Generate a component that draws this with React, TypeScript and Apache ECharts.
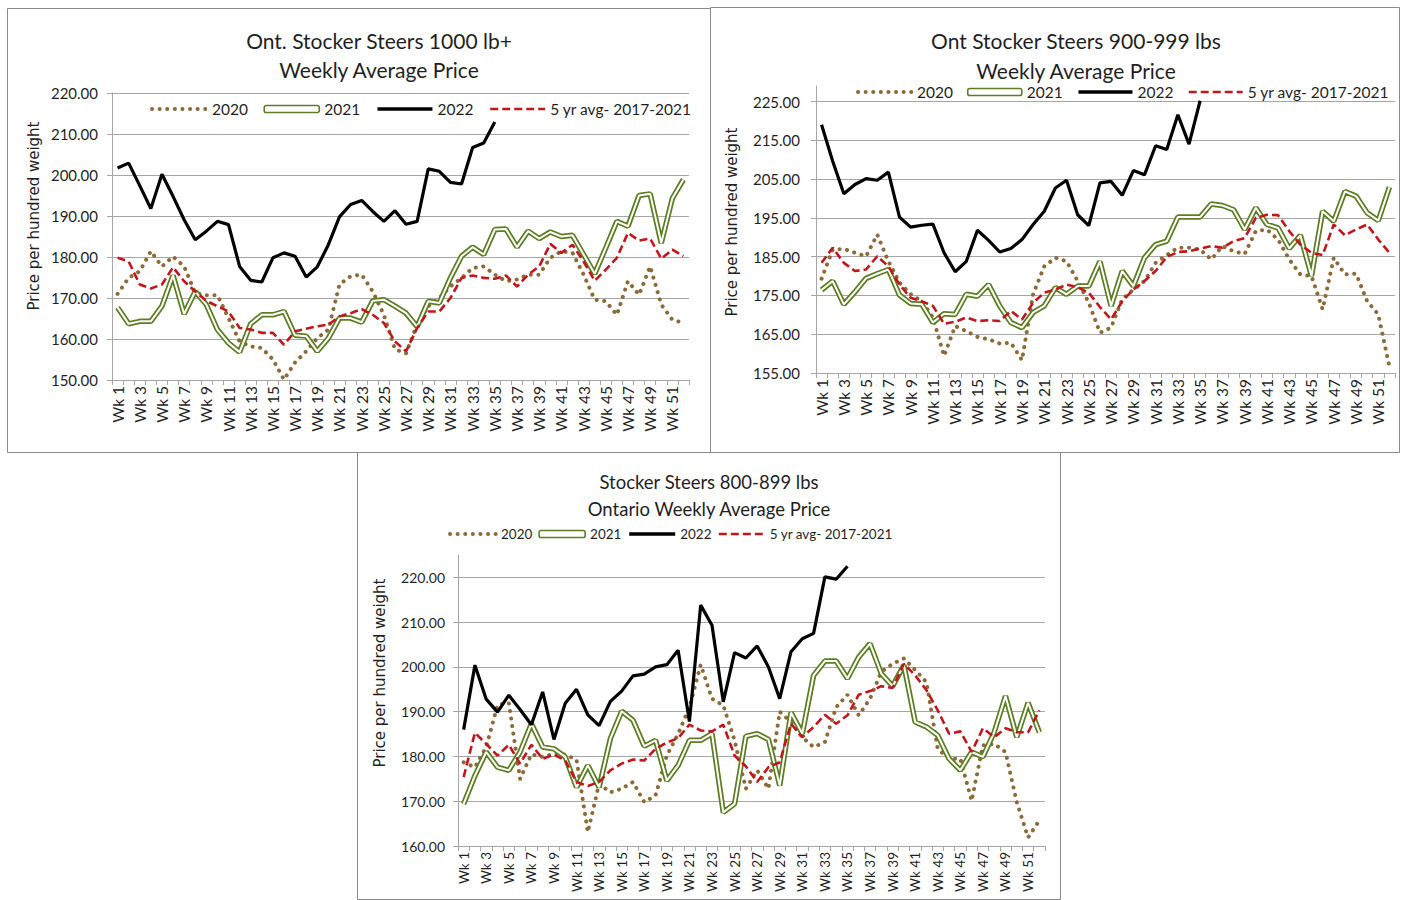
import React, { useEffect, useRef } from "react";
import * as echarts from "echarts";

const weeks: string[] = Array.from({ length: 52 }, (_, i) => `Wk ${i + 1}`);
const seriesNames = ["2020", "2021", "2022", "5 yr avg- 2017-2021"];

// Chart 1: Ont. Stocker Steers 1000 lb+
const c1Titles = ["Ont. Stocker Steers 1000 lb+", "Weekly Average Price"];
const c1y2020 = [171.0, 174.9, 176.5, 181.4, 177.7, 180.1, 177.7, 171.2, 170.7, 170.7, 165.1, 159.4, 158.2, 157.8, 155.0, 150.1, 154.3, 157.0, 160.2, 162.3, 173.3, 175.3, 175.7, 171.6, 165.9, 157.5, 156.5, 163.5, 168.0, 170.0, 172.8, 174.9, 177.3, 177.7, 175.7, 174.1, 174.5, 175.7, 175.7, 179.8, 181.4, 181.0, 175.7, 169.6, 169.2, 165.9, 174.1, 170.8, 177.7, 168.4, 164.7, 163.9];
const c1y2021 = [167.7, 163.7, 164.3, 164.3, 168.0, 175.5, 166.1, 171.6, 168.4, 162.3, 159.0, 156.8, 163.7, 165.9, 165.9, 166.7, 160.9, 160.7, 157.0, 160.2, 165.1, 165.1, 164.1, 169.3, 169.6, 168.0, 166.3, 163.0, 169.2, 168.8, 174.9, 180.2, 182.4, 180.6, 186.7, 186.8, 182.4, 186.3, 184.5, 186.1, 185.0, 185.3, 180.6, 175.9, 182.2, 188.7, 187.5, 195.0, 195.4, 183.4, 194.3, 198.9];
const c1y2022 = [201.7, 202.9, 197.4, 191.8, 200.2, 194.8, 189.1, 184.2, 186.3, 188.7, 187.9, 177.7, 174.3, 173.9, 179.8, 181.0, 180.2, 175.1, 177.6, 183.0, 189.8, 192.8, 193.8, 191.1, 188.7, 191.3, 188.0, 188.7, 201.5, 200.9, 198.2, 197.8, 206.7, 207.8, 212.9];
const c1yAvg = [179.8, 178.9, 173.3, 172.3, 173.3, 177.5, 174.1, 171.6, 169.3, 168.0, 166.7, 162.7, 162.3, 161.5, 161.5, 158.6, 161.9, 162.5, 163.1, 163.5, 165.5, 166.3, 167.3, 165.9, 163.9, 159.4, 157.0, 162.7, 166.7, 166.7, 170.0, 174.9, 175.5, 174.9, 174.7, 175.5, 172.8, 175.7, 177.7, 183.2, 181.0, 183.0, 178.9, 174.2, 176.9, 179.8, 185.9, 184.0, 184.5, 179.6, 181.8, 180.2];

// Chart 2: Ont Stocker Steers 900-999 lbs
const c2Titles = ["Ont Stocker Steers 900-999 lbs", "Weekly Average Price"];
const c2y2020 = [179.3, 186.8, 187.0, 186.0, 185.1, 190.7, 183.8, 178.3, 175.3, 173.5, 169.3, 159.4, 167.1, 165.8, 164.3, 163.7, 162.6, 162.8, 158.3, 175.3, 182.5, 184.7, 183.8, 178.7, 173.1, 165.4, 166.7, 174.0, 176.5, 178.7, 183.4, 185.4, 187.3, 187.3, 186.8, 184.3, 187.7, 186.4, 185.7, 191.6, 192.0, 189.4, 184.3, 180.4, 180.0, 171.4, 184.7, 180.4, 180.6, 173.5, 170.1, 156.6];
const c2y2021 = [176.4, 178.7, 172.7, 175.9, 179.4, 180.6, 181.7, 175.1, 172.9, 172.7, 168.0, 170.3, 170.1, 175.3, 174.8, 177.8, 172.3, 168.0, 166.7, 170.6, 172.3, 177.0, 175.3, 177.4, 177.4, 183.8, 172.3, 181.3, 177.4, 184.7, 188.1, 189.0, 195.2, 195.2, 195.2, 198.6, 198.2, 197.1, 192.0, 197.6, 193.3, 192.4, 187.1, 190.5, 180.0, 196.7, 194.1, 201.8, 200.6, 196.3, 194.3, 202.9];
const c2y2022 = [219.0, 209.6, 201.2, 203.6, 205.1, 204.7, 206.8, 195.2, 192.6, 193.1, 193.4, 186.0, 181.1, 183.8, 191.8, 189.2, 186.2, 187.1, 189.4, 193.3, 196.7, 202.7, 204.7, 195.8, 193.0, 204.0, 204.4, 200.8, 207.2, 206.1, 213.6, 212.6, 221.6, 214.0, 225.2];
const c2yAvg = [183.4, 187.3, 183.4, 181.3, 181.7, 185.1, 182.5, 177.8, 174.4, 173.5, 172.3, 167.7, 168.2, 169.3, 168.4, 168.6, 168.4, 171.0, 168.8, 173.1, 175.7, 176.5, 177.8, 177.1, 175.7, 172.0, 168.8, 173.5, 176.5, 178.7, 181.3, 184.9, 186.2, 186.4, 187.1, 187.7, 187.3, 189.0, 189.8, 195.0, 195.8, 195.7, 191.6, 188.1, 186.0, 185.4, 193.3, 190.5, 192.0, 193.3, 189.4, 186.0];

// Chart 3: Stocker Steers 800-899 lbs
const c3Titles = ["Stocker Steers 800-899 lbs", "Ontario Weekly Average Price"];
const c3y2020 = [178.7, 177.6, 182.1, 191.5, 192.0, 175.0, 180.5, 179.9, 180.6, 180.4, 179.3, 163.1, 173.9, 172.0, 172.8, 174.3, 169.8, 171.3, 180.2, 185.0, 191.0, 200.5, 192.9, 191.4, 183.6, 172.8, 176.9, 172.8, 190.0, 187.7, 184.3, 182.1, 183.2, 191.0, 193.8, 189.2, 192.9, 198.9, 200.7, 201.9, 199.3, 196.6, 181.7, 179.5, 179.5, 170.1, 182.5, 182.8, 181.0, 169.8, 161.9, 165.7];
const c3y2021 = [169.4, 175.7, 181.0, 177.6, 176.9, 181.0, 187.3, 182.1, 181.7, 179.9, 173.1, 178.0, 173.1, 184.0, 190.1, 188.1, 182.3, 183.6, 174.6, 178.0, 183.6, 183.6, 185.1, 167.5, 169.4, 184.5, 185.1, 183.8, 173.5, 189.8, 185.1, 198.1, 201.3, 201.3, 197.4, 202.2, 205.2, 198.5, 195.7, 200.4, 187.7, 186.6, 184.7, 179.5, 176.9, 181.0, 179.9, 185.4, 193.5, 184.3, 192.0, 185.4];
const c3y2022 = [186.0, 200.4, 192.8, 189.9, 193.7, 190.5, 187.1, 194.4, 183.8, 191.9, 195.0, 189.3, 186.9, 192.3, 194.6, 198.0, 198.4, 200.0, 200.5, 203.7, 187.8, 213.8, 209.3, 192.2, 203.2, 202.0, 204.7, 200.0, 192.9, 203.4, 206.3, 207.5, 220.1, 219.6, 222.5];
const c3yAvg = [175.4, 185.3, 182.8, 180.2, 182.6, 178.4, 182.6, 179.5, 180.4, 179.1, 174.3, 173.4, 174.3, 176.9, 178.4, 179.3, 179.1, 181.7, 183.1, 184.1, 187.1, 185.8, 185.6, 187.1, 180.2, 177.8, 174.3, 177.6, 178.7, 187.3, 184.3, 186.6, 189.3, 187.3, 189.2, 193.8, 194.6, 195.7, 195.3, 200.7, 198.1, 194.8, 190.3, 185.1, 185.6, 181.0, 186.3, 184.3, 186.3, 185.4, 185.4, 190.3];

const yAxisName = "Price per hundred weight";

const FONT = "Lato, 'Open Sans', sans-serif";
const NAME_FONT = "'DejaVu Sans', 'Noto Sans', sans-serif";
const BROWN = "#8d6a38";
const GREEN = "#5c7d22";
const RED = "#c3161c";
const GRIDC = "#a6a6a6";
const TEXTC = "#1f1f1f";

const panels = [
  {
    titles: c1Titles,
    data: [c1y2020, c1y2021, c1y2022, c1yAvg],
    grid: { left: 112, top: 93, width: 577, height: 287 },
    min: 150, max: 220, showMax: true,
    yFont: 15, xFont: 15.5, yMargin: 14,
    titleX: 379, titleY: [40, 69], titleSize: 21,
    nameX: 34, nameY: 216, nameSize: 15,
    legend: { left: 150, top: 101, itemWidth: 55, itemGap: 15.5, fontSize: 15.5 },
    box: { x: 7.5, y: 8.5, w: 703, h: 444 },
  },
  {
    titles: c2Titles,
    data: [c2y2020, c2y2021, c2y2022, c2yAvg],
    grid: { left: 816, top: 86, width: 579, height: 287 },
    min: 155, max: 229, showMax: false,
    yFont: 15, xFont: 15.5, yMargin: 16,
    titleX: 1076, titleY: [40, 70], titleSize: 21,
    nameX: 732, nameY: 222, nameSize: 15,
    legend: { left: 856, top: 84, itemWidth: 54, itemGap: 14, fontSize: 15.5 },
    box: { x: 710.5, y: 7.5, w: 689, h: 445 },
  },
  {
    titles: c3Titles,
    data: [c3y2020, c3y2021, c3y2022, c3yAvg],
    grid: { left: 458, top: 555, width: 587, height: 291 },
    min: 160, max: 225, showMax: false,
    yFont: 14, xFont: 13.5, yMargin: 13,
    titleX: 709, titleY: [482, 509], titleSize: 18.5,
    nameX: 380, nameY: 673, nameSize: 15,
    legend: { left: 448, top: 527, itemWidth: 46, itemGap: 6, fontSize: 13.5 },
    box: { x: 357.5, y: 452.5, w: 703, h: 447 },
  },
];

const hiddenSymbol = { color: "rgba(0,0,0,0)", borderColor: "rgba(0,0,0,0)", borderWidth: 0, opacity: 0 };

export default function App() {
  const ref = useRef<HTMLDivElement>(null);
  useEffect(() => {
    const chart = echarts.init(ref.current!, null, { renderer: "svg" });
    const grids: any[] = [];
    const xAxes: any[] = [];
    const yAxes: any[] = [];
    const series: any[] = [];
    const legends: any[] = [];
    const graphics: any[] = [];

    panels.forEach((p, k) => {
      grids.push({ ...p.grid, containLabel: false });
      xAxes.push({
        type: "category",
        gridIndex: k,
        data: weeks,
        boundaryGap: true,
        axisLine: { lineStyle: { color: GRIDC, width: 1 } },
        axisTick: { show: true, interval: 0, length: 5, lineStyle: { color: GRIDC } },
        axisLabel: { interval: 1, rotate: 90, fontSize: p.xFont, fontFamily: FONT, color: TEXTC, margin: 6 },
        splitLine: { show: false },
      });
      yAxes.push({
        type: "value",
        gridIndex: k,
        min: p.min,
        max: p.max,
        interval: 10,
        axisLine: { show: true, lineStyle: { color: GRIDC, width: 1 } },
        axisTick: { show: true, length: 5, lineStyle: { color: GRIDC } },
        axisLabel: {
          formatter: (v: number) => v.toFixed(2),
          showMaxLabel: p.showMax,
          fontSize: p.yFont,
          fontFamily: FONT,
          color: TEXTC,
          margin: p.yMargin,
        },
        splitLine: { show: true, showMaxLine: p.showMax, lineStyle: { color: GRIDC, width: 1 } },
      });
      const [d20, d21, d22, dAvg] = p.data;
      series.push(
        {
          name: seriesNames[0], type: "line", xAxisIndex: k, yAxisIndex: k, data: d20,
          symbol: "none", silent: true,
          lineStyle: { color: BROWN, width: 4, type: [0.1, 7.5], cap: "round" },
          itemStyle: { color: BROWN },
        },
        {
          name: seriesNames[1], type: "line", xAxisIndex: k, yAxisIndex: k, data: d21,
          symbol: "none", silent: true,
          lineStyle: { color: GREEN, width: 5.5 },
          itemStyle: { color: GREEN },
        },
        {
          name: "2021 inner", type: "line", xAxisIndex: k, yAxisIndex: k, data: d21,
          symbol: "none", silent: true,
          lineStyle: { color: "#ffffff", width: 2 },
          itemStyle: { color: "#ffffff" },
        },
        {
          name: seriesNames[2], type: "line", xAxisIndex: k, yAxisIndex: k, data: d22,
          symbol: "none", silent: true,
          lineStyle: { color: "#000000", width: 3.2 },
          itemStyle: { color: "#000000" },
        },
        {
          name: seriesNames[3], type: "line", xAxisIndex: k, yAxisIndex: k, data: dAvg,
          symbol: "none", silent: true,
          lineStyle: { color: RED, width: 2.6, type: [8, 4] },
          itemStyle: { color: RED },
        }
      );
      legends.push({
        left: p.legend.left,
        top: p.legend.top,
        padding: 0,
        itemWidth: p.legend.itemWidth,
        itemHeight: 7,
        itemGap: p.legend.itemGap,
        selectedMode: false,
        textStyle: { fontFamily: FONT, fontSize: p.legend.fontSize, color: TEXTC },
        data: [
          { name: seriesNames[0], lineStyle: { width: 4 }, itemStyle: hiddenSymbol },
          { name: seriesNames[1], icon: "roundRect", itemStyle: { color: "#ffffff", borderColor: GREEN, borderWidth: 1.6 } },
          { name: seriesNames[2], lineStyle: { width: 3.5 }, itemStyle: hiddenSymbol },
          { name: seriesNames[3], lineStyle: { width: 2.6 }, itemStyle: hiddenSymbol },
        ],
      });
      p.titles.forEach((t, i) => {
        graphics.push({
          type: "text",
          x: p.titleX,
          y: p.titleY[i],
          silent: true,
          style: {
            text: t,
            fill: TEXTC,
            font: `${p.titleSize}px ${FONT}`,
            textAlign: "center",
            textVerticalAlign: "middle",
          },
        });
      });
      graphics.push({
        type: "text",
        x: p.nameX,
        y: p.nameY,
        rotation: Math.PI / 2,
        silent: true,
        style: {
          text: yAxisName,
          fill: TEXTC,
          font: `${p.nameSize}px ${NAME_FONT}`,
          textAlign: "center",
          textVerticalAlign: "middle",
        },
      });
      graphics.push({
        type: "rect",
        silent: true,
        shape: { x: p.box.x, y: p.box.y, width: p.box.w, height: p.box.h },
        style: { fill: "none", stroke: "#8a8a8a", lineWidth: 1 },
        z: -1,
      });
    });

    chart.setOption({
      animation: false,
      backgroundColor: "#ffffff",
      grid: grids,
      xAxis: xAxes,
      yAxis: yAxes,
      legend: legends,
      series,
      graphic: graphics,
    });
    return () => chart.dispose();
  }, []);
  return (
    <div
      ref={ref}
      style={{ position: "absolute", left: 0, top: 0, width: 1401, height: 900, background: "#fff" }}
    />
  );
}
